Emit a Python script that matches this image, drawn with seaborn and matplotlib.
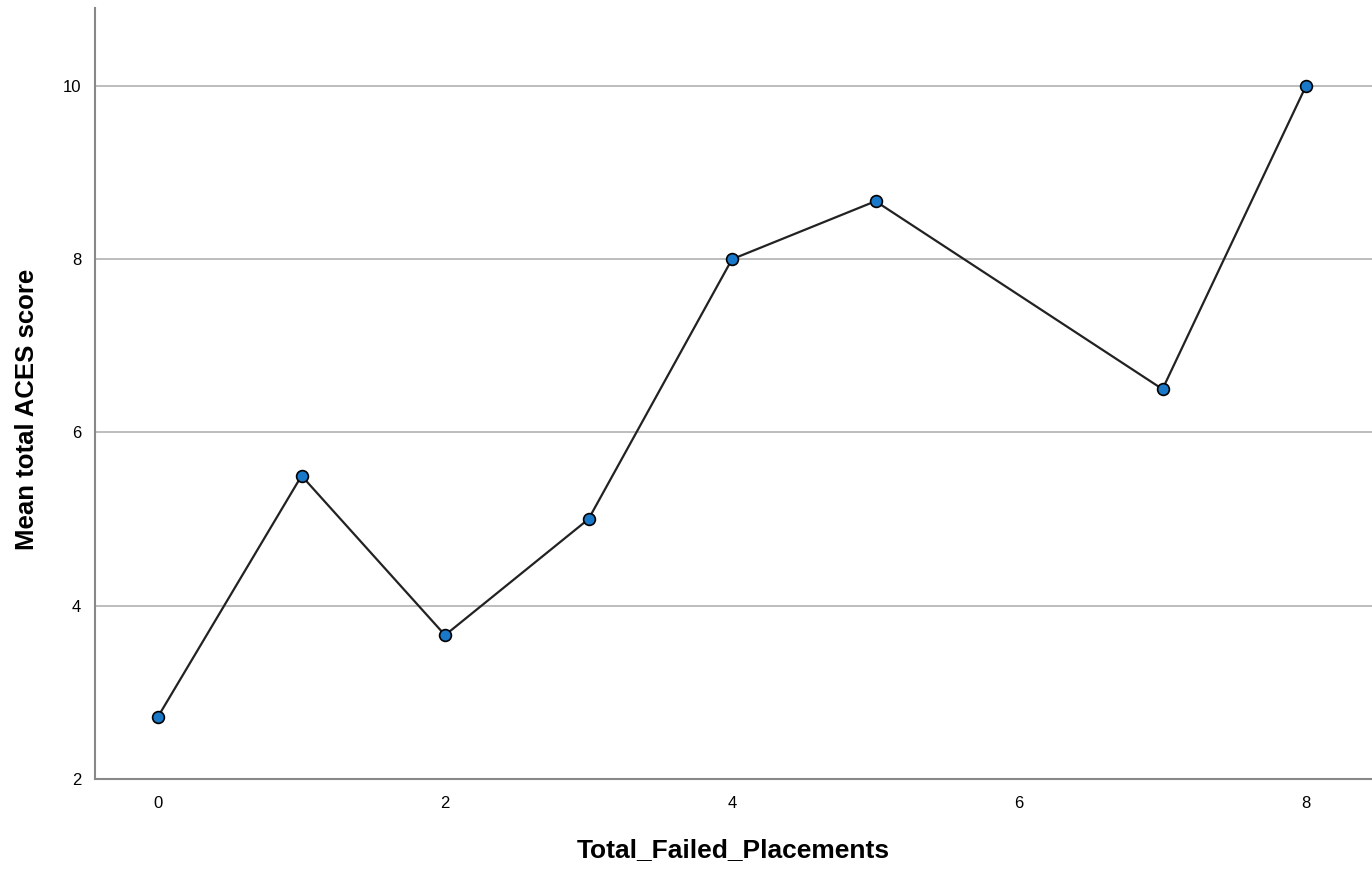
import pandas as pd
import numpy as np
import seaborn as sns
import matplotlib
matplotlib.use("Agg")
import matplotlib.pyplot as plt

failed_placements = [0, 1, 2, 3, 4, 5, 7, 8]
mean_aces = [2.72, 5.5, 3.66, 5.0, 8.0, 8.67, 6.5, 10.0]
x_ticks = [0, 2, 4, 6, 8]
y_ticks = [2, 4, 6, 8, 10]

df = pd.DataFrame({"Total_Failed_Placements": failed_placements,
                   "Mean total ACES score": mean_aces})

sns.set_style("white")
plt.rcParams["font.family"] = ["Liberation Sans", "DejaVu Sans"]

fig = plt.figure(figsize=(13.72, 8.72), dpi=100)
ax = fig.add_axes([0.0692, 0.1067, 0.9308, 0.8841])

# horizontal reference lines
for y in y_ticks:
    ax.axhline(y, color="#b8b8b8", lw=1.3, zorder=0)

sns.lineplot(data=df, x="Total_Failed_Placements", y="Mean total ACES score",
             color="#222222", lw=1.6, ax=ax, zorder=2)
sns.scatterplot(data=df, x="Total_Failed_Placements", y="Mean total ACES score",
                color="#1a78c8", edgecolor="black", linewidth=1.2, s=72, ax=ax, zorder=3)

ax.set_xlim(-0.44, 8.46)
ax.set_ylim(2, 10.9)
ax.set_xticks(x_ticks)
ax.set_yticks(y_ticks)
ax.tick_params(length=0, labelsize=12, labelcolor="black")
ax.tick_params(axis="x", pad=12)
ax.tick_params(axis="y", pad=10)
ax.set_xlabel("Total_Failed_Placements", fontsize=19, fontweight="bold",
              labelpad=20, color="black")
ax.set_ylabel("Mean total ACES score", fontsize=18.5, fontweight="bold",
              color="black")
ax.yaxis.set_label_coords(-0.044, 0.479)

for s in ["top", "right"]:
    ax.spines[s].set_visible(False)
for s in ["left", "bottom"]:
    ax.spines[s].set_color("#888888")
    ax.spines[s].set_linewidth(1.5)

fig.savefig("out.png", dpi=100)
